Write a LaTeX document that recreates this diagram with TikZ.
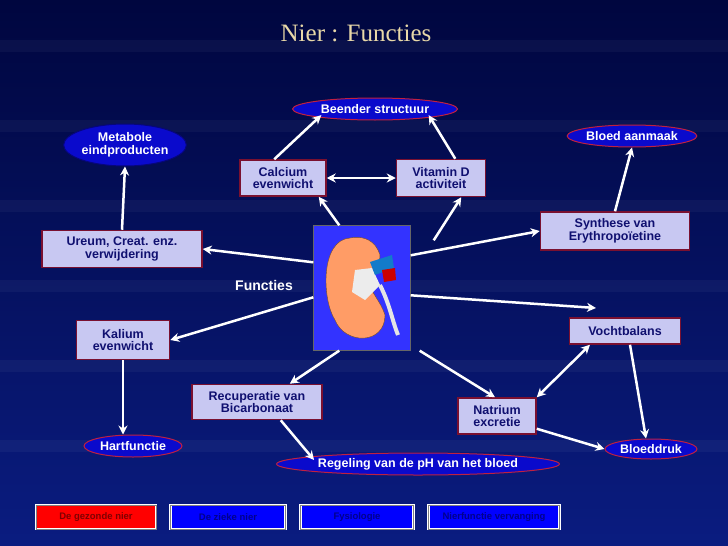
\documentclass[tikz,border=0pt]{standalone}
\usepackage{fontspec}
\setmainfont{Liberation Sans}
\newfontfamily\serifx{Liberation Serif}
\usetikzlibrary{arrows.meta,shapes.geometric,calc}
\definecolor{bgA}{HTML}{00063F}
\definecolor{bgB}{HTML}{0A1C80}
\definecolor{boxf}{HTML}{C8C8F2}
\definecolor{boxd}{HTML}{7A1030}
\definecolor{txt}{HTML}{101070}
\definecolor{ellf}{HTML}{0A0ACC}
\definecolor{elld}{HTML}{C02040}
\definecolor{titlec}{HTML}{E8D8A8}
\begin{document}
\begin{tikzpicture}[x=1pt,y=-1pt,
 box/.style={draw=boxd,line width=1.5pt,fill=boxf,text=txt,font=\bfseries\fontsize{12.5}{12.5}\selectfont,align=center,inner sep=1pt},
 ell/.style={ellipse,draw=elld,line width=1pt,fill=ellf,text=white,font=\bfseries\fontsize{12.5}{12.5}\selectfont,align=center,inner sep=0pt},
 arr/.style={white,line width=2.5pt,-{Stealth[length=9pt,width=9pt]}},
 darr/.style={white,line width=2.5pt,{Stealth[length=9pt,width=9pt]}-{Stealth[length=9pt,width=9pt]}},
 btn/.style={draw=white,double=black!50,double distance=0.6pt,line width=0.8pt,minimum height=24pt,font=\bfseries\fontsize{9.5}{9.5}\selectfont,inner sep=1pt}]
\shade[top color=bgA,bottom color=bgB] (0,0) rectangle (728,546);
\useasboundingbox (0,0) rectangle (728,546);
\foreach \yy in {40,120,200,280,360,440}{\fill[white,opacity=0.04] (0,\yy) rectangle (728,\yy+12);}
\node[titlec,font=\serifx\fontsize{25}{25}\selectfont] (title) at (356,33) {Nier : Functies};
% ellipses
\node[ell,minimum width=165pt,minimum height=22pt] (been) at (375,109) {Beender structuur};
\node[ell,draw=ellf!60!black,minimum width=112pt,minimum height=42pt] (meta) at (125,145) {Metabole\\eindproducten};
\node[ell,minimum width=120pt,minimum height=22pt] (bloed) at (632,136) {Bloed aanmaak};
\node[ell,minimum width=98pt,minimum height=22pt] (hart) at (133,446) {Hartfunctie};
\node[ell,minimum width=280pt,minimum height=22pt] (reg) at (418,464) {Regeling van de pH van het bloed};
\node[ell,minimum width=92pt,minimum height=20pt] (bd) at (651,449) {Bloeddruk};
% boxes
\node[box,minimum width=86pt,minimum height=36pt] (cal) at (283,178) {Calcium\\evenwicht};
\node[box,minimum width=89pt,minimum height=37pt] (vit) at (441,178) {Vitamin D\\activiteit};
\node[box,minimum width=149pt,minimum height=38pt] (syn) at (615,231) {Synthese van\\Erythropoïetine};
\node[box,minimum width=160pt,minimum height=37pt] (ur) at (122,249) {Ureum, Creat. enz.\\verwijdering};
\node[box,minimum width=93pt,minimum height=39pt] (kal) at (123,340) {Kalium\\evenwicht};
\node[box,minimum width=111pt,minimum height=26pt] (voc) at (625,331) {Vochtbalans};
\node[box,minimum width=130pt,minimum height=35pt] (rec) at (257,402) {Recuperatie van\\Bicarbonaat};
\node[box,minimum width=78pt,minimum height=36pt] (nat) at (497,416) {Natrium\\excretie};
% kidney picture
\node[draw=black!60,fill=blue!80!white,minimum width=97pt,minimum height=125pt,inner sep=0pt] (kid) at (362,288) {};
\fill[orange!70!red!60!white,draw=brown!60!black] (350,238) .. controls (320,240) and (322,300) .. (335,320) .. controls (345,345) and (385,345) .. (385,315) .. controls (380,300) and (372,295) .. (368,280) .. controls (372,265) and (385,262) .. (378,250) .. controls (372,238) and (360,236) .. (350,238) -- cycle;
\fill[white!85!gray] (355,270) -- (372,268) -- (380,285) -- (365,300) -- (352,292) -- cycle;
\fill[cyan!60!blue] (370,262) -- (392,255) -- (394,268) -- (375,275) -- cycle;
\fill[red!80!black] (382,270) -- (395,268) -- (396,280) -- (384,282) -- cycle;
\draw[white!80!gray,line width=4pt] (380,285) .. controls (390,305) and (392,320) .. (398,335);
\node[white,font=\bfseries\fontsize{14}{14}\selectfont] (fun) at (264,285) {Functies};
% arrows
\draw[arr] ($(cal.north west)+(35,0)$) -- ($(been.south west)+(5,-2)$);
\draw[arr] ($(vit.north east)+(-31,0)$) -- ($(been.south east)+(-5,-2)$);
\draw[darr] (cal) -- (vit);
\draw[arr] ($(kid.north west)+(26,0)$) -- ($(cal.south east)+(-8,0)$);
\draw[arr] ($(kid.north east)+(23,15)$) -- ($(vit.south east)+(-25,0)$);
\draw[arr] ($(kid.north east)+(0,30)$) -- (syn.west);
\draw[arr] (syn.north) -- (bloed.south);
\draw[arr] ($(kid.north west)+(0,37)$) -- (ur.east);
\draw[arr] (ur.north) -- (meta.south);
\coordinate (vtop) at (596,308);
\draw[arr] ($(kid.north east)+(0,70)$) -- (vtop);
\draw[arr] ($(kid.north west)+(0,72)$) -- (kal.east);
\draw[arr] (kal.south) -- (hart.north-|kal.south);
\draw[arr] ($(kid.south west)+(26,0)$) -- ($(rec.north east)+(-33,0)$);
\draw[arr] ($(rec.south east)+(-42,0)$) -- ($(reg.west)+(38,-4)$);
\draw[arr] ($(kid.south east)+(9,0)$) -- ($(nat.north)+(-2,0)$);
\draw[darr] (nat.north east) -- ($(voc.south)+(-35,0)$);
\draw[arr] ($(voc.south)+(5,0)$) -- ($(bd.north)+(-5,0)$);
\draw[arr] ($(nat.south east)+(0,-6)$) -- (bd.west);
% buttons
\node[btn,fill=red,text=red!50!black,minimum width=120pt] (b1) at (96,517) {De gezonde nier};
\node[btn,fill=blue,text=blue!55!black,minimum width=115pt] (b2) at (228,517) {De zieke nier};
\node[btn,fill=blue,text=blue!55!black,minimum width=113pt] (b3) at (357,517) {Fysiologie};
\node[btn,fill=blue,text=blue!55!black,minimum width=131pt] (b4) at (494,517) {Nierfunctie vervanging};
\end{tikzpicture}
\end{document}
